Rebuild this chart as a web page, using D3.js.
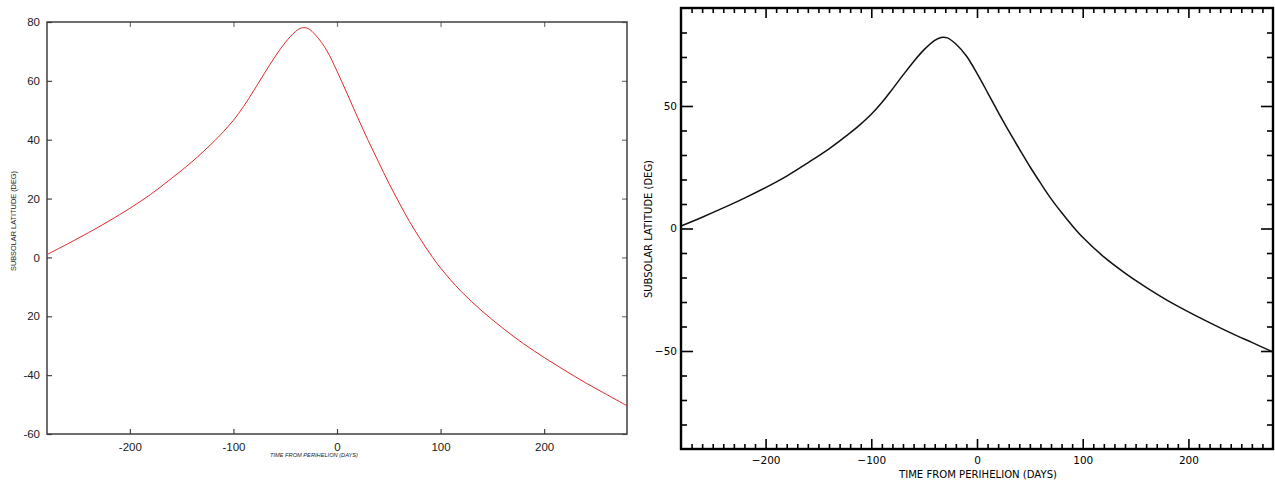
<!DOCTYPE html>
<html>
<head>
<meta charset="utf-8">
<script src="https://cdn.jsdelivr.net/npm/d3@7"></script>
<style>
  html, body { margin: 0; padding: 0; background: #fff; }
  svg { display: block; }
</style>
</head>
<body>
<svg id="chart" width="1275" height="481"></svg>
<script>
// ---- data ----
const days = [-280,-260,-240,-220,-200,-180,-160,-140,-120,-110,-100,-90,-80,-70,-60,-50,-40,-34,-28,-20,-10,0,10,20,30,40,50,60,70,80,90,100,120,140,160,180,200,220,240,260,280];
const latitude = [1,4.6,8.4,12.4,16.7,21.4,26.8,32.5,39,42.6,46.6,51.4,56.9,62.6,68.1,73,76.8,78,77.8,75.3,70.4,63.3,55.5,47.5,39.8,32.5,25.3,18.6,12.2,6.5,1.2,-3.6,-11.6,-18.2,-24,-29.3,-34,-38.4,-42.6,-46.5,-50.4];

// left panel ticks
const leftXTicks = [-200,-100,0,100,200];
const leftXTickLabels = ["-200","-100","0","100","200"];
const leftYTicks = [-60,-40,-20,0,20,40,60,80];
const leftYTickLabels = ["-60","-40","20","0","20","40","60","80"];

// right panel ticks
const rightXMajor = [-200,-100,0,100,200];
const rightYMajor = [-50,0,50];

const xTitle = "TIME FROM PERIHELION (DAYS)";
const yTitle = "SUBSOLAR LATITUDE (DEG)";

const pts = days.map((d,i) => ({d, v: latitude[i]}));
const svg = d3.select("#chart");

// ================= LEFT PANEL =================
const xL = d3.scaleLinear().domain([-280,280]).range([47,627]);
const yL = d3.scaleLinear().domain([-60,80]).range([434,22]);
const gL = svg.append("g");
const tickCol = "#444";

function styleAxis(g, col, fs, family) {
  g.select(".domain").remove();
  g.selectAll(".tick line").attr("stroke", col).attr("stroke-width", 1.2);
  g.selectAll(".tick text").attr("fill", "#1a1a1a").style("font-family", family).style("font-size", fs + "px");
}

gL.append("g").attr("transform", `translate(${xL.range()[0]},0)`)
  .call(d3.axisLeft(yL).tickValues(leftYTicks).tickSize(-5).tickPadding(7)
    .tickFormat((d,i) => leftYTickLabels[i]))
  .call(g => styleAxis(g, tickCol, 11.5, "Liberation Sans"));
gL.append("g").attr("transform", `translate(${xL.range()[1]},0)`)
  .call(d3.axisRight(yL).tickValues(leftYTicks).tickSize(-5).tickFormat(""))
  .call(g => styleAxis(g, "#777", 11, "Liberation Sans"));
gL.append("g").attr("transform", `translate(0,${yL.range()[0]})`)
  .call(d3.axisBottom(xL).tickValues(leftXTicks).tickSize(-5).tickPadding(9)
    .tickFormat((d,i) => leftXTickLabels[i]))
  .call(g => styleAxis(g, tickCol, 11.5, "Liberation Sans"));
gL.append("g").attr("transform", `translate(0,${yL.range()[1]})`)
  .call(d3.axisTop(xL).tickValues(leftXTicks).tickSize(-5).tickFormat(""))
  .call(g => styleAxis(g, "#777", 11, "Liberation Sans"));

gL.append("rect")
  .attr("x", xL.range()[0]).attr("y", yL.range()[1])
  .attr("width", xL.range()[1]-xL.range()[0]).attr("height", yL.range()[0]-yL.range()[1])
  .attr("fill", "none").attr("stroke", "#333").attr("stroke-width", 1.4);

gL.append("path").datum(pts)
  .attr("fill", "none").attr("stroke", "#e02a2a").attr("stroke-width", 1)
  .attr("d", d3.line().x(p => xL(p.d)).y(p => yL(p.v)).curve(d3.curveCatmullRom.alpha(0.5)));

gL.append("text").text(xTitle)
  .attr("x", 314).attr("y", 457).attr("text-anchor", "middle")
  .attr("textLength", 88).attr("lengthAdjust", "spacingAndGlyphs")
  .style("font-family", "Liberation Sans").style("font-size", "6px").style("font-style", "italic")
  .attr("fill", "#222");
gL.append("text").text(yTitle)
  .attr("transform", "translate(16,221) rotate(-90)").attr("text-anchor", "middle")
  .attr("textLength", 100).attr("lengthAdjust", "spacingAndGlyphs")
  .style("font-family", "Liberation Sans").style("font-size", "7px")
  .attr("fill", "#222");

// ================= RIGHT PANEL =================
const xR = d3.scaleLinear().domain([-280,280]).range([681,1273]);
const yR = d3.scaleLinear().domain([-90,90]).range([449,8]);
const gR = svg.append("g");
const xMinor = d3.range(-270, 271, 10).filter(v => v % 100 !== 0);
const yMinor = d3.range(-80, 81, 10).filter(v => v % 50 !== 0);
const fontR = "DejaVu Sans";

function styleR(g) {
  g.select(".domain").remove();
  g.selectAll(".tick line").attr("stroke", "#000").attr("stroke-width", 1.6);
  g.selectAll(".tick text").attr("fill", "#000").style("font-family", fontR).style("font-size", "10.5px");
}
// minor
gR.append("g").attr("transform", `translate(${xR.range()[0]},0)`)
  .call(d3.axisLeft(yR).tickValues(yMinor).tickSize(-6).tickFormat("")).call(styleR);
gR.append("g").attr("transform", `translate(${xR.range()[1]},0)`)
  .call(d3.axisRight(yR).tickValues(yMinor).tickSize(-6).tickFormat("")).call(styleR);
gR.append("g").attr("transform", `translate(0,${yR.range()[0]})`)
  .call(d3.axisBottom(xR).tickValues(xMinor).tickSize(-5).tickFormat("")).call(styleR);
gR.append("g").attr("transform", `translate(0,${yR.range()[1]})`)
  .call(d3.axisTop(xR).tickValues(xMinor).tickSize(-5).tickFormat("")).call(styleR);
// major
gR.append("g").attr("transform", `translate(${xR.range()[0]},0)`)
  .call(d3.axisLeft(yR).tickValues(rightYMajor).tickSize(-12).tickPadding(4)).call(styleR);
gR.append("g").attr("transform", `translate(${xR.range()[1]},0)`)
  .call(d3.axisRight(yR).tickValues(rightYMajor).tickSize(-12).tickFormat("")).call(styleR);
gR.append("g").attr("transform", `translate(0,${yR.range()[0]})`)
  .call(d3.axisBottom(xR).tickValues(rightXMajor).tickSize(-10).tickPadding(8)).call(styleR);
gR.append("g").attr("transform", `translate(0,${yR.range()[1]})`)
  .call(d3.axisTop(xR).tickValues(rightXMajor).tickSize(-10).tickFormat("")).call(styleR);

gR.append("rect")
  .attr("x", xR.range()[0]).attr("y", yR.range()[1])
  .attr("width", xR.range()[1]-xR.range()[0]).attr("height", yR.range()[0]-yR.range()[1])
  .attr("fill", "none").attr("stroke", "#000").attr("stroke-width", 2.4);

gR.append("path").datum(pts)
  .attr("fill", "none").attr("stroke", "#111").attr("stroke-width", 1.5)
  .attr("d", d3.line().x(p => xR(p.d)).y(p => yR(p.v)).curve(d3.curveCatmullRom.alpha(0.5)));

gR.append("text").text(xTitle)
  .attr("x", 978).attr("y", 478).attr("text-anchor", "middle")
  .attr("textLength", 158).attr("lengthAdjust", "spacingAndGlyphs")
  .style("font-family", fontR).style("font-size", "10.5px").attr("fill", "#000");
gR.append("text").text(yTitle)
  .attr("transform", "translate(652,229) rotate(-90)").attr("text-anchor", "middle")
  .attr("textLength", 138).attr("lengthAdjust", "spacingAndGlyphs")
  .style("font-family", fontR).style("font-size", "10.5px").attr("fill", "#000");
</script>
</body>
</html>
